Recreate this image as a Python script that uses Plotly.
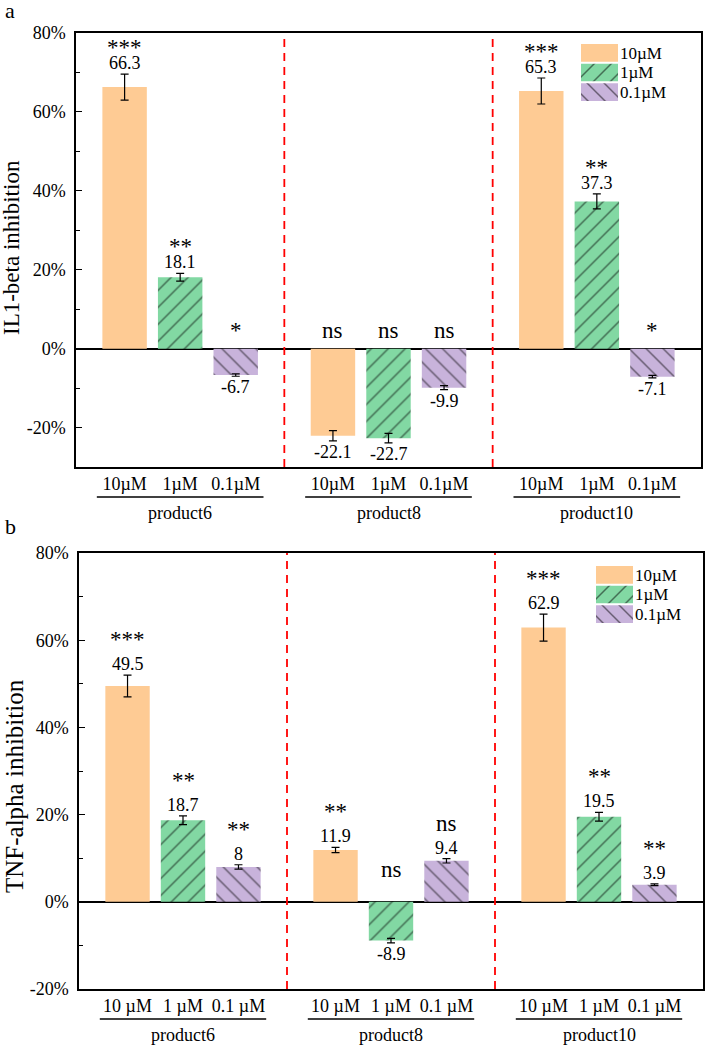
import plotly.graph_objects as go

# groups and concentrations
products = ['product6', 'product8', 'product10']
conc_a = ['10µM', '1µM', '0.1µM']
conc_b = ['10 µM', '1 µM', '0.1 µM']
colors = ['#FECB94', '#82D8A3', '#C8B3DB']
hatches = ['', '/', '\\']

# panel a: IL1-beta inhibition (%), one list per concentration (product6, product8, product10)
il1_10 = [66.3, -22.1, 65.3]
il1_1 = [18.1, -22.7, 37.3]
il1_01 = [-6.7, -9.9, -7.1]
il1_err_10 = [3.3, 1.3, 3.3]
il1_err_1 = [1.0, 1.2, 1.9]
il1_err_01 = [0.3, 0.5, 0.3]
il1_sig_10 = ['***', 'ns', '***']
il1_sig_1 = ['**', 'ns', '**']
il1_sig_01 = ['*', 'ns', '*']
il1_ticks = [-20, 0, 20, 40, 60, 80]

# panel b: TNF-alpha inhibition (%)
tnf_10 = [49.5, 11.9, 62.9]
tnf_1 = [18.7, -8.9, 19.5]
tnf_01 = [8, 9.4, 3.9]
tnf_err_10 = [2.5, 0.6, 3.1]
tnf_err_1 = [1.0, 0.5, 1.0]
tnf_err_01 = [0.5, 0.5, 0.2]
tnf_sig_10 = ['***', '**', '***']
tnf_sig_1 = ['**', 'ns', '**']
tnf_sig_01 = ['**', 'ns', '**']
tnf_ticks = [-20, 0, 20, 40, 60, 80]

FONT = 'Liberation Serif, Times New Roman, serif'
W, H = 706, 1045
GROUP_STEP = 3.75


def fx(px):
    return px / W


def fy(py):
    return 1 - py / H


def pos(g, c):
    return g * GROUP_STEP + c - 1


panels = [
    dict(vals=[il1_10, il1_1, il1_01], errs=[il1_err_10, il1_err_1, il1_err_01],
         sigs=[il1_sig_10, il1_sig_1, il1_sig_01], conc=conc_a, ticks=il1_ticks,
         title='IL1-beta inhibition', tsize=23, tpos=(12, 248), yr=[-30, 80],
         px=(76, 701), py=(33, 467), leg=(581, 618, 43, 102),
         star_up=12, star_neg=4, letter='a', lpos=(3, 10)),
    dict(vals=[tnf_10, tnf_1, tnf_01], errs=[tnf_err_10, tnf_err_1, tnf_err_01],
         sigs=[tnf_sig_10, tnf_sig_1, tnf_sig_01], conc=conc_b, ticks=tnf_ticks,
         title='TNF-alpha inhibition', tsize=25, tpos=(14, 786), yr=[-20, 80],
         px=(79, 703), py=(553, 989), leg=(596, 633, 565, 624),
         star_up=21, star_neg=18, letter='b', lpos=(3, 526)),
]

fig = go.Figure()
annotations = []
shapes = []
layout = {}

for i, p in enumerate(panels):
    n = i + 1
    xs = 'x' if n == 1 else 'x%d' % n
    ys = 'y' if n == 1 else 'y%d' % n
    xa = 'xaxis' if n == 1 else 'xaxis%d' % n
    ya = 'yaxis' if n == 1 else 'yaxis%d' % n
    ph = p['py'][1] - p['py'][0]

    for c in range(3):
        x = [pos(g, c) for g in range(3)]
        fig.add_trace(go.Bar(
            x=x, y=p['vals'][c], width=0.8, xaxis=xs, yaxis=ys,
            marker=dict(color=colors[c], line=dict(width=0),
                        pattern=dict(shape=hatches[c], fgcolor='black', size=12, solidity=0.12)),
            error_y=dict(type='data', array=p['errs'][c], color='black', thickness=1.2, width=4),
            showlegend=False, hoverinfo='skip'))
        for g in range(3):
            v = p['vals'][c][g]
            e = p['errs'][c][g]
            lab = f'{v:g}'
            if v >= 0:
                annotations.append(dict(x=x[g], y=v + e, xref=xs, yref=ys, text=lab, showarrow=False,
                                        yanchor='bottom', yshift=-1, font=dict(size=18)))
                annotations.append(dict(x=x[g], y=v + e, xref=xs, yref=ys, text=p['sigs'][c][g],
                                        showarrow=False, yanchor='bottom', yshift=p['star_up'],
                                        font=dict(size=23)))
            else:
                annotations.append(dict(x=x[g], y=v - e, xref=xs, yref=ys, text=lab, showarrow=False,
                                        yanchor='top', yshift=1, font=dict(size=18)))
                annotations.append(dict(x=x[g], y=0, xref=xs, yref=ys, text=p['sigs'][c][g],
                                        showarrow=False, yanchor='bottom', yshift=p['star_neg'],
                                        font=dict(size=23)))

    # separators between product groups
    for g in range(2):
        xm = (pos(g, 1) + pos(g + 1, 1)) / 2
        shapes.append(dict(type='line', xref=xs, yref=ys + ' domain', x0=xm, x1=xm, y0=0, y1=1,
                           line=dict(color='#FF0000', width=1.8, dash='8px,6px')))
    # product underline + name
    for g in range(3):
        shapes.append(dict(type='line', xref=xs, yref=ys + ' domain', x0=pos(g, 0) - 0.5,
                           x1=pos(g, 2) + 0.5, y0=-30 / ph, y1=-30 / ph,
                           line=dict(color='black', width=1.5)))
        annotations.append(dict(x=pos(g, 1), y=-46 / ph, xref=xs, yref=ys + ' domain',
                                text=products[g], showarrow=False, yanchor='middle',
                                font=dict(size=18)))

    layout[xa] = dict(domain=[fx(p['px'][0]), fx(p['px'][1])], anchor=ys, automargin=False,
                      range=[pos(0, 0) - 0.875, pos(2, 2) + 0.875],
                      tickmode='array', tickvals=[pos(g, c) for g in range(3) for c in range(3)],
                      ticktext=[p['conc'][c] for g in range(3) for c in range(3)],
                      ticks='', showline=True, mirror=True, linecolor='black', linewidth=1.5,
                      showgrid=False, zeroline=False, tickfont=dict(size=18))
    layout[ya] = dict(domain=[fy(p['py'][1]), fy(p['py'][0])], anchor=xs, automargin=False,
                      range=p['yr'], tickmode='array', tickvals=p['ticks'],
                      ticktext=['%d%%' % t for t in p['ticks']],
                      ticks='inside', ticklen=6, tickwidth=1.2, tickcolor='black',
                      ticklabelstandoff=5,
                      minor=dict(ticks='inside', dtick=10, ticklen=4, tickwidth=1.2, tickcolor='black'),
                      showline=True, mirror=True, linecolor='black', linewidth=1.5,
                      showgrid=False, zeroline=True, zerolinecolor='black', zerolinewidth=1.5,
                      tickfont=dict(size=18))

    annotations.append(dict(x=fx(p['tpos'][0]), y=fy(p['tpos'][1]), xref='paper', yref='paper',
                            text=p['title'], textangle=-90, showarrow=False,
                            xanchor='center', yanchor='middle', font=dict(size=p['tsize'])))

    # legend keys as small bars on their own axes
    ln = n + 2
    lx = 'x%d' % ln
    ly = 'y%d' % ln
    lg = p['leg']
    for c in range(3):
        fig.add_trace(go.Bar(
            x=[1], y=[conc_a[c]], orientation='h', width=0.9, xaxis=lx, yaxis=ly,
            marker=dict(color=colors[c], line=dict(width=0),
                        pattern=dict(shape=hatches[c], fgcolor='black', size=12, solidity=0.12)),
            showlegend=False, hoverinfo='skip'))
    layout['xaxis%d' % ln] = dict(domain=[fx(lg[0]), fx(lg[1])], anchor=ly, range=[0, 1],
                                  visible=False, fixedrange=True, automargin=False)
    layout['yaxis%d' % ln] = dict(domain=[fy(lg[3]), fy(lg[2])], anchor=lx,
                                  type='category', categoryorder='array',
                                  categoryarray=conc_a[::-1], tickmode='array', tickvals=conc_a,
                                  side='right', showline=False, automargin=False,
                                  ticks='', ticklabelstandoff=1, showgrid=False, zeroline=False,
                                  tickfont=dict(size=17), fixedrange=True)

    annotations.append(dict(x=fx(p['lpos'][0]), y=fy(p['lpos'][1]), xref='paper', yref='paper',
                            text=p['letter'], showarrow=False, xanchor='left', yanchor='middle',
                            font=dict(size=22)))

fig.update_layout(
    width=W, height=H,
    margin=dict(l=0, r=0, t=0, b=0, autoexpand=False),
    paper_bgcolor='white', plot_bgcolor='white',
    font=dict(family=FONT, color='black'),
    barmode='overlay',
    annotations=annotations,
    shapes=shapes,
    **layout
)

# drop the default 8px page margin so the figure fills the window
fig.write_html('out.html', config={'displayModeBar': False},
               post_script="document.body.style.margin='0';")
